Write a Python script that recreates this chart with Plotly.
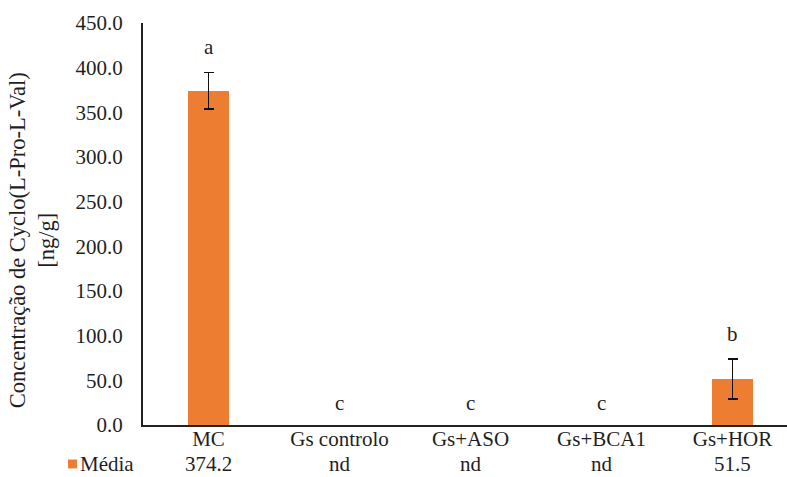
import plotly.graph_objects as go

# ---- data ----
categories = ["MC", "Gs controlo", "Gs+ASO", "Gs+BCA1", "Gs+HOR"]
means = [374.2, None, None, None, 51.5]
errors = [20.5, None, None, None, 22.2]
letters = ["a", "c", "c", "c", "b"]
series_name = "Média"
y_ticks = [0, 50, 100, 150, 200, 250, 300, 350, 400, 450]

FONT = "Liberation Serif"
TXT = "#1f1f1f"
ORANGE = "#ED7D31"
FS = 21

xs = list(range(len(categories)))

fig = go.Figure()
fig.add_trace(go.Bar(
    x=xs, y=means, name=series_name, width=0.31,
    marker=dict(color=ORANGE, line=dict(width=0)),
    error_y=dict(type="data", array=errors, visible=True,
                 color="#111111", thickness=1.6, width=5),
    showlegend=False,
    hoverinfo="skip",
))

# significance letters above bars / error bars
for x, m, e, lt in zip(xs, means, errors, letters):
    top = (m or 0) + (e or 0)
    fig.add_annotation(x=x, y=top, xref="x", yref="y", text=lt, showarrow=False,
                       yanchor="bottom", yshift=11 if m is not None else 8,
                       font=dict(family=FONT, size=FS, color=TXT))

# data table row below axis
ROW_Y = -0.097
for x, m in zip(xs, means):
    fig.add_annotation(x=x, y=ROW_Y, xref="x", yref="paper",
                       text=(f"{m:.1f}" if m is not None else "nd"),
                       showarrow=False, yanchor="middle", borderpad=0,
                       font=dict(family=FONT, size=FS, color=TXT))

# legend key of the data table
fig.add_shape(type="rect", xref="paper", yref="paper",
              x0=-0.1165, x1=-0.1025, y0=-0.108, y1=-0.0858,
              fillcolor=ORANGE, line=dict(width=0))
fig.add_annotation(x=-0.0995, y=ROW_Y, xref="paper", yref="paper",
                   text=series_name, showarrow=False, xanchor="left", yanchor="middle",
                   borderpad=0,
                   font=dict(family=FONT, size=FS, color=TXT))

# y axis title (two lines)
fig.add_annotation(x=-0.172, y=0.46, xref="paper", yref="paper",
                   text="Concentração de Cyclo(L-Pro-L-Val)<br>[ng/g]",
                   textangle=-90, showarrow=False, xanchor="center", yanchor="middle",
                   font=dict(family=FONT, size=22.5, color=TXT))

fig.update_layout(
    width=787, height=477,
    margin=dict(l=143, r=0, t=23, b=52, autoexpand=False),
    paper_bgcolor="white", plot_bgcolor="white",
    font=dict(family=FONT, size=FS, color=TXT),
    showlegend=False,
    bargap=0,
)
fig.update_xaxes(
    range=[-0.5, -0.5 + 644 / 131], tickvals=xs, ticktext=categories,
    showline=True, linecolor="#222222", linewidth=2, ticks="",
    ticklabelstandoff=-6,
    showgrid=False, zeroline=False, fixedrange=True,
    tickfont=dict(family=FONT, size=FS, color=TXT),
)
fig.update_yaxes(
    range=[0, 450], tickvals=y_ticks, ticktext=[f"{v:.1f}" for v in y_ticks],
    showline=True, linecolor="#222222", linewidth=2, ticks="",
    ticklabelstandoff=14,
    showgrid=False, zeroline=False, fixedrange=True,
    tickfont=dict(family=FONT, size=FS, color=TXT),
)

fig.write_html("out.html", config={"displayModeBar": False},
               post_script="document.body.style.margin='0px';document.body.style.overflow='hidden';")
